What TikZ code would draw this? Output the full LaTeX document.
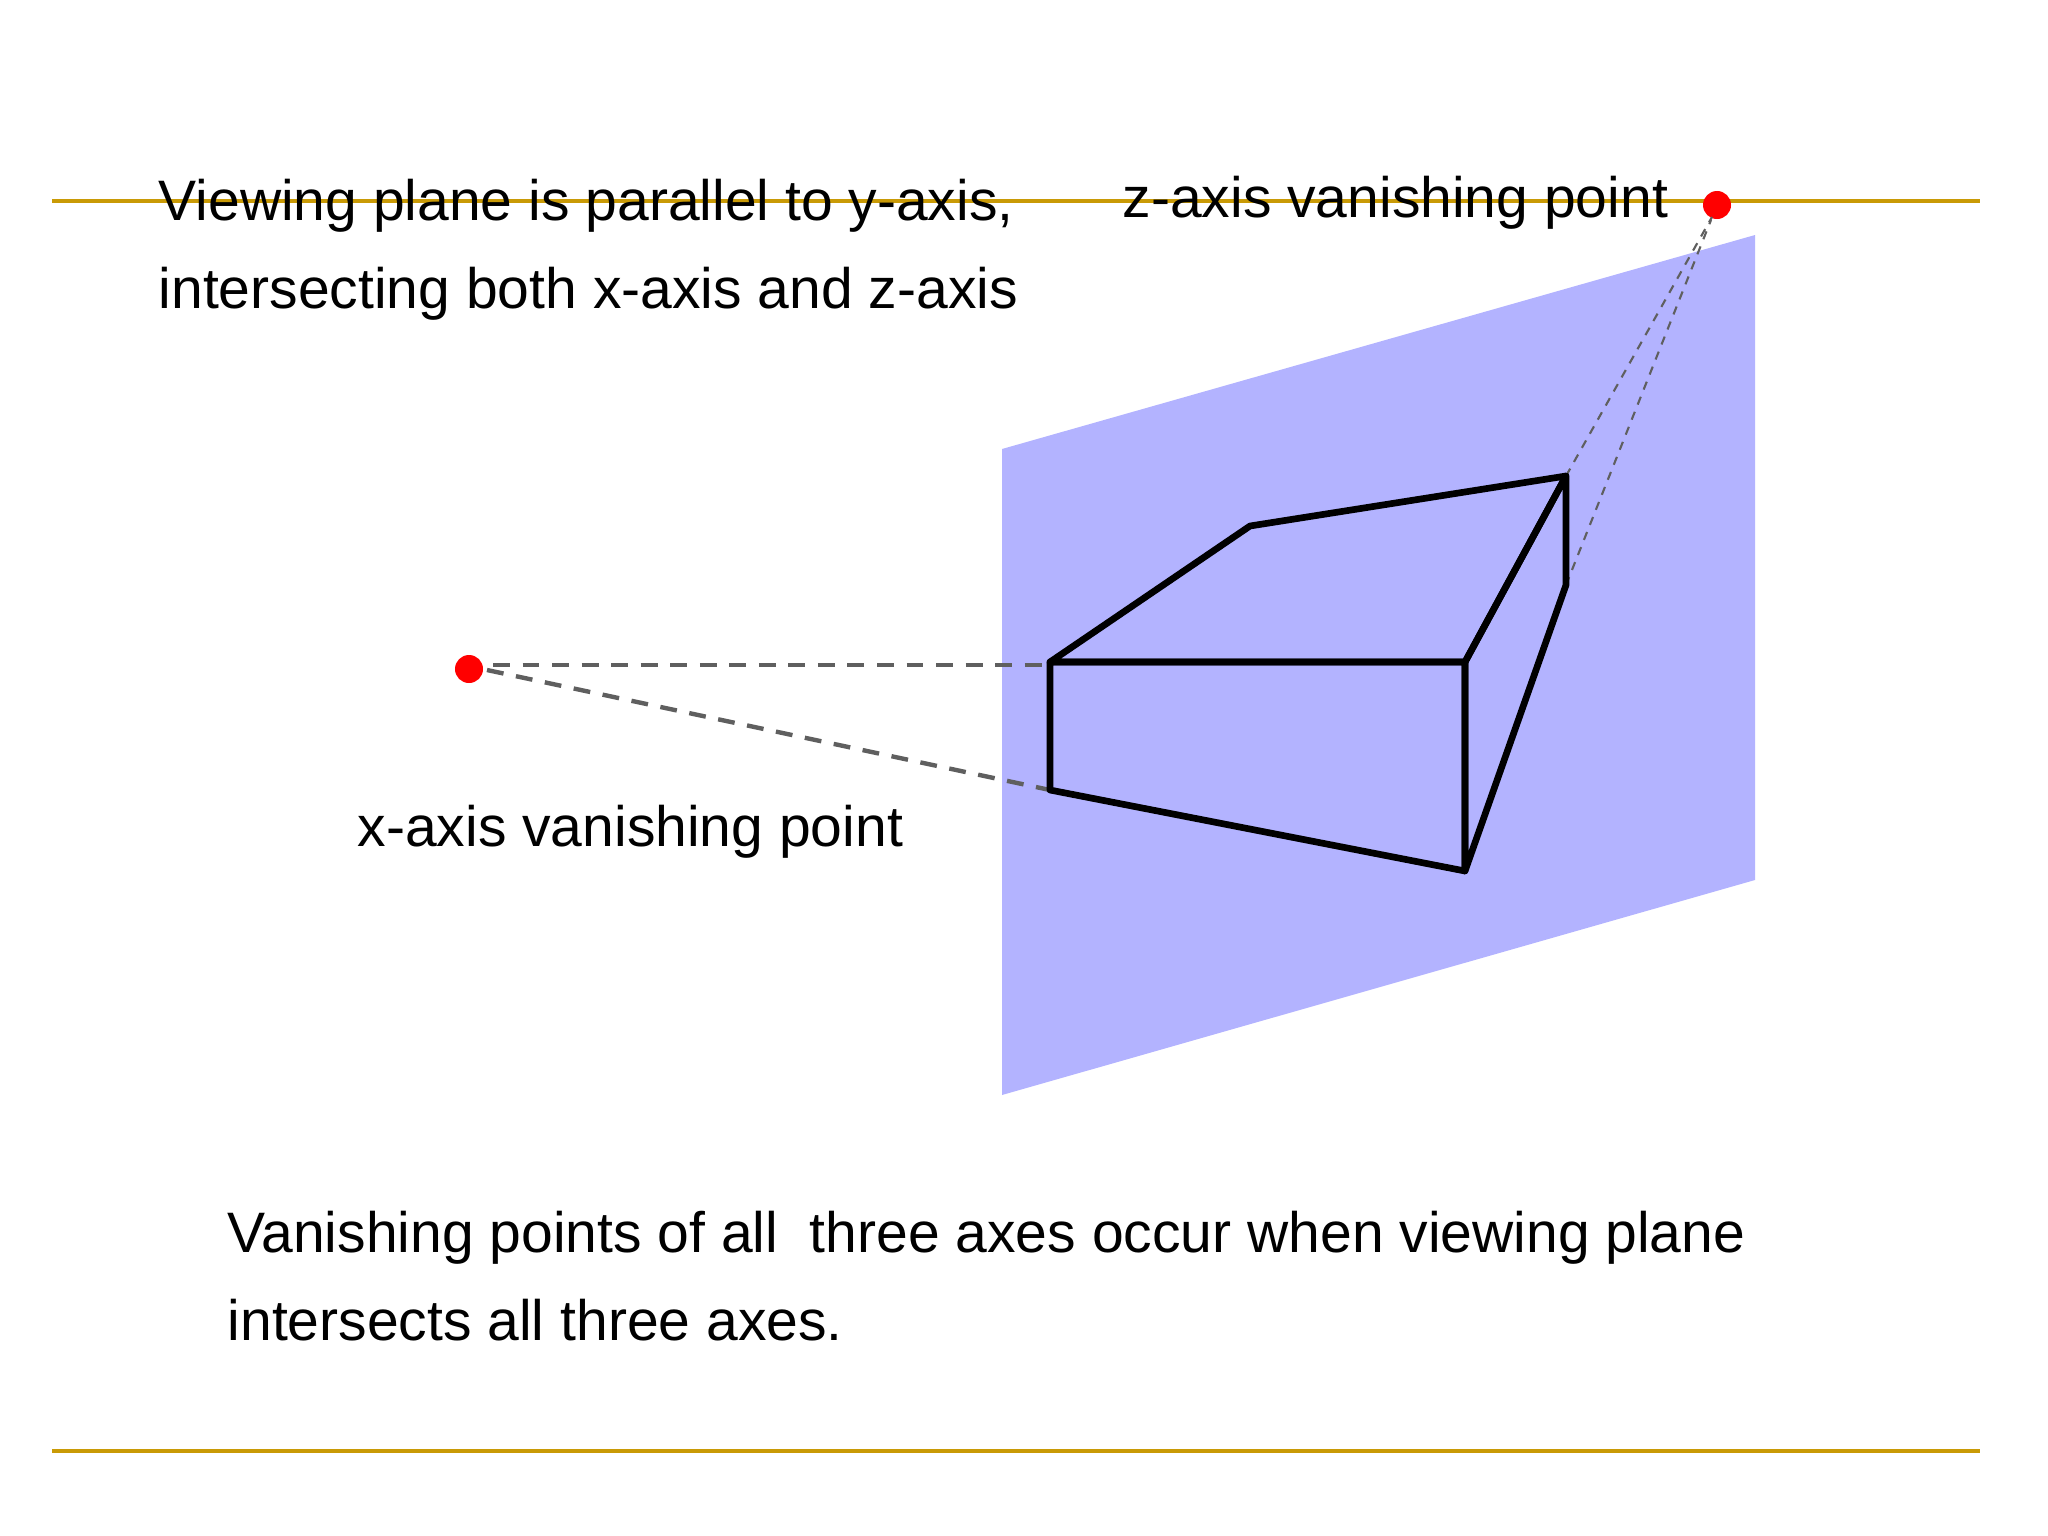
\documentclass[tikz,border=0pt]{standalone}
\usepackage{fontspec}
\setmainfont{Liberation Sans}
\definecolor{rulegold}{HTML}{C99A06}
\definecolor{planeblue}{HTML}{B3B3FF}
\definecolor{dashgray}{HTML}{5F5F5F}
\tikzset{
    caption/.style={anchor=north west, inner sep=0pt, align=left, font=\fontsize{16.22}{25.2}\selectfont},
    vpoint/.style={circle, fill=red, inner sep=0pt, minimum size=28*0.2845pt},
    boxline/.style={black, line width=1.9pt, line join=round},
    xdash/.style={dashgray, line width=1.25pt, dash pattern=on 4.8pt off 3.6pt},
    zdash/.style={dashgray, line width=0.6pt, dash pattern=on 2.4pt off 2.2pt}
}

\begin{document}
\begin{tikzpicture}[x=0.01cm, y=-0.01cm]
    \useasboundingbox (0,0) rectangle (2048,1536);
    % slide rules
    \coordinate (TL) at (52,201);
    \coordinate (TR) at (1980,201);
    \coordinate (BL) at (52,1451);
    \coordinate (BR) at (1980,1451);
    \draw[rulegold, line width=1.3pt] (TL) -- (TR);
    \draw[rulegold, line width=1.3pt] (BL) -- (BR);
    % viewing plane
    \fill[planeblue] (1002,449) -- (1755,235) -- (1755,880) -- (1002,1095) -- cycle;
    % corners of the box
    \coordinate (A) at (1050,662);
    \coordinate (B) at (1465,662);
    \coordinate (C) at (1465,871);
    \coordinate (D) at (1050,790);
    \coordinate (E) at (1566,476);
    \coordinate (F) at (1250,526);
    \coordinate (G) at (1566,585);
    % vanishing points
    \node[vpoint] (xvp) at (469,669) {};
    \node[vpoint] (zvp) at (1717,205) {};
    \coordinate (xup) at (493,665);
    \coordinate (xlow) at (487,670);
    \coordinate (zup) at (1712,217);
    \coordinate (zlow) at (1711,220);
    \draw[xdash] (xup) -- (A |- xup);
    \draw[xdash] (xlow) -- (D);
    \draw[zdash] (E) -- (zup);
    \draw[zdash] (G) -- (zlow);
    \draw[boxline] (A) -- (F) -- (E) -- (B) -- cycle;
    \draw[boxline] (A) -- (B) -- (C) -- (D) -- cycle;
    \draw[boxline] (B) -- (E) -- (G) -- (C) -- cycle;
    % texts
    \node[caption] (viewing) at (158,178) {Viewing plane is parallel to y-axis,\\intersecting both x-axis and z-axis};
    \node[caption] (zlabel) at (1122,175) {z-axis vanishing point};
    \node[caption] (xlabel) at (357,804) {x-axis vanishing point};
    \node[caption] (summary) at (227,1210) {Vanishing points of all\ \ three axes occur when viewing plane\\intersects all three axes.};
\end{tikzpicture}
\end{document}
